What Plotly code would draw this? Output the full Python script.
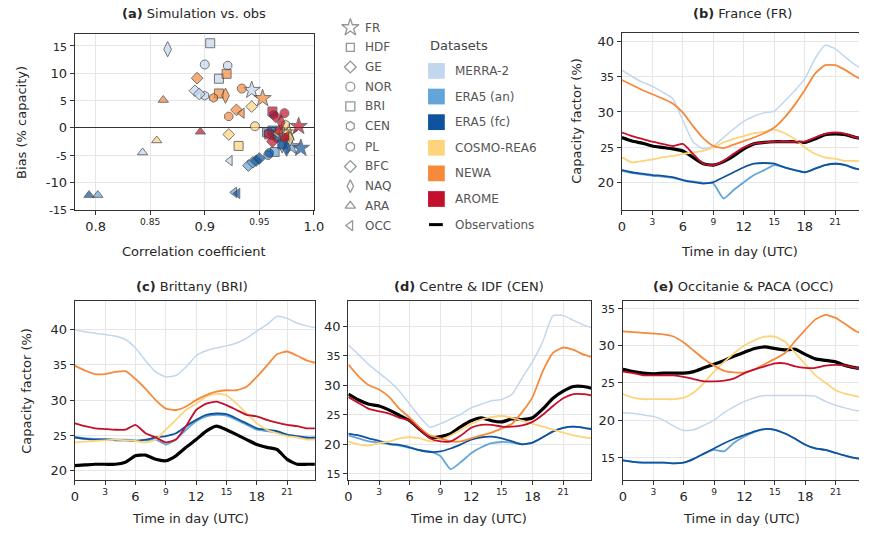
import plotly.graph_objects as go

W, H = 869, 539
FONT = "DejaVu Sans"
INK = "#262626"
GRID = "#e6e6e6"

DATASETS = ["MERRA-2", "ERA5 (an)", "ERA5 (fc)", "COSMO-REA6", "NEWA", "AROME"]
COLORS = ["#c2d7ee", "#63a5d8", "#0f539f", "#fdd47c", "#f68a3a", "#c4102c"]

# ---------------- (a) correlation / bias per region ----------------
REGIONS = ["FR", "HDF", "GE", "NOR", "BRI", "CEN", "PL", "BFC", "NAQ", "ARA", "OCC"]
SYMBOLS = ["star", "square", "diamond", "circle", "square", "hexagon", "octagon",
           "diamond", "diamond-tall", "triangle-up", "triangle-left"]

corr_merra2 = [0.943, 0.913, 0.891, 0.900, 0.905, 0.900, 0.921, 0.895, 0.866, 0.843, 0.923]
bias_merra2 = [6.9, 9.0, 6.8, 11.6, 15.5, 5.9, 11.4, 6.2, 14.4, -4.5, -6.0]
corr_era5an = [0.979, 0.957, 0.940, 0.962, 0.964, 0.958, 0.958, 0.944, 0.971, 0.802, 0.927]
bias_era5an = [-3.4, -0.8, -6.9, -1.3, -4.4, -1.0, -5.0, -6.3, -3.2, -12.3, -11.8]
corr_era5fc = [0.988, 0.962, 0.947, 0.966, 0.971, 0.963, 0.959, 0.950, 0.975, 0.794, 0.930]
bias_era5fc = [-3.7, -0.5, -6.0, -1.8, -3.0, 2.4, -4.6, -5.6, -3.8, -12.3, -12.0]
corr_cosmo = [0.977, 0.975, 0.922, 0.946, 0.931, 0.974, 0.969, 0.943, 0.978, 0.856, 0.966]
bias_cosmo = [-0.9, -1.2, -1.2, 0.3, -3.3, 0.6, -0.3, 3.9, -2.0, -2.3, -1.0]
corr_newa = [0.953, 0.920, 0.893, 0.934, 0.913, 0.908, 0.922, 0.929, 0.919, 0.862, 0.934]
bias_newa = [5.4, 9.9, 9.1, 7.2, 6.3, 5.5, 2.1, 3.3, 5.9, 5.1, 2.7]
corr_arome = [0.986, 0.962, 0.965, 0.973, 0.959, 0.968, 0.973, 0.962, 0.970, 0.896, 0.975]
bias_arome = [0.3, 3.0, 2.0, 2.7, -1.2, -0.5, -1.8, -2.5, 1.0, -0.7, -1.5]

CORR = [corr_merra2, corr_era5an, corr_era5fc, corr_cosmo, corr_newa, corr_arome]
BIAS = [bias_merra2, bias_era5an, bias_era5fc, bias_cosmo, bias_newa, bias_arome]

# ---------------- (b)-(e) mean diurnal capacity factor (%) ----------------
HOURS = list(range(24)) + [23.75]

fr_merra2 = [35.9, 35.0, 34.2, 33.6, 32.8, 31.9, 28.8, 25.8, 24.8, 25.2, 26.4, 27.6, 28.7, 29.4, 29.9, 30.1, 31.5, 33.0, 34.7, 37.5, 39.4, 38.9, 37.7, 36.6, 36.0]
fr_era5an = [21.7, 21.4, 21.2, 21.0, 20.9, 20.7, 20.4, 20.2, 20.0, 19.9, 17.8, 19.0, 20.1, 21.1, 21.8, 22.5, 22.2, 21.8, 21.5, 22.0, 22.5, 22.7, 22.5, 22.0, 21.8]
fr_era5fc = [21.8, 21.5, 21.3, 21.1, 21.0, 20.8, 20.4, 20.1, 19.9, 20.1, 20.8, 21.5, 22.2, 22.7, 22.8, 22.7, 22.2, 21.8, 21.5, 22.0, 22.5, 22.7, 22.5, 22.0, 21.8]
fr_cosmo = [23.6, 22.9, 23.1, 23.3, 23.6, 23.8, 24.1, 24.3, 24.5, 25.0, 25.7, 26.2, 26.6, 27.0, 27.2, 27.5, 27.0, 26.2, 25.0, 24.1, 23.6, 23.4, 23.1, 23.1, 23.0]
fr_newa = [34.5, 33.8, 33.1, 32.5, 31.9, 31.2, 29.9, 28.0, 26.3, 25.2, 24.9, 25.4, 25.9, 26.4, 27.0, 27.8, 29.2, 31.0, 33.1, 35.4, 36.6, 36.6, 35.9, 35.0, 34.5]
fr_arome = [27.1, 26.6, 26.2, 25.8, 25.5, 25.2, 25.5, 24.1, 22.7, 22.5, 23.1, 24.1, 25.0, 25.5, 25.7, 25.8, 25.8, 25.8, 25.8, 26.4, 26.9, 27.1, 26.9, 26.4, 26.2]
fr_obs = [26.4, 25.9, 25.6, 25.2, 25.0, 24.8, 24.5, 23.6, 22.7, 22.5, 23.0, 23.8, 24.8, 25.5, 25.7, 25.8, 25.8, 25.8, 25.7, 26.2, 26.8, 26.9, 26.8, 26.4, 26.2]

bri_merra2 = [40.0, 39.7, 39.5, 39.3, 39.1, 38.6, 37.4, 35.6, 34.0, 33.3, 33.5, 34.7, 36.3, 37.0, 37.4, 37.7, 38.1, 38.8, 39.8, 40.7, 41.9, 41.6, 40.9, 40.5, 40.3]
bri_era5an = [24.8, 24.6, 24.5, 24.5, 24.4, 24.4, 24.3, 24.3, 24.4, 23.7, 24.4, 25.8, 27.0, 27.7, 27.9, 27.8, 27.2, 26.5, 25.8, 25.6, 25.4, 25.0, 24.8, 24.6, 24.6]
bri_era5fc = [24.7, 24.5, 24.4, 24.4, 24.3, 24.3, 24.2, 24.4, 24.7, 24.9, 25.3, 26.3, 27.2, 27.9, 28.1, 28.0, 27.4, 26.7, 26.0, 25.8, 25.6, 25.1, 24.9, 24.7, 24.7]
bri_cosmo = [24.0, 24.1, 24.2, 24.3, 24.4, 24.3, 24.2, 24.0, 24.4, 25.8, 27.2, 28.6, 29.5, 30.5, 30.9, 30.7, 29.5, 28.1, 26.7, 25.8, 25.3, 24.9, 24.7, 24.4, 24.4]
bri_newa = [34.9, 34.2, 33.7, 33.7, 34.0, 34.1, 33.0, 31.6, 30.0, 28.8, 28.6, 29.1, 30.0, 30.7, 31.2, 31.4, 31.4, 31.9, 33.3, 34.9, 36.5, 36.9, 36.3, 35.6, 35.3]
bri_arome = [26.7, 26.3, 26.0, 25.9, 25.8, 25.8, 26.5, 25.3, 24.7, 24.0, 24.4, 26.3, 28.6, 29.5, 29.8, 29.3, 28.6, 27.9, 27.7, 27.2, 26.8, 26.5, 26.3, 26.0, 26.0]
bri_obs = [20.7, 20.8, 20.9, 20.9, 20.9, 21.2, 22.1, 22.2, 21.6, 21.4, 22.1, 23.3, 24.4, 25.6, 26.3, 25.8, 25.1, 24.4, 23.7, 23.3, 23.0, 21.6, 20.9, 20.9, 20.9]

cen_merra2 = [36.8, 35.2, 33.5, 32.1, 30.7, 29.0, 26.8, 24.6, 22.9, 23.5, 24.3, 25.1, 26.2, 26.8, 27.4, 27.6, 28.5, 31.3, 34.0, 37.4, 41.8, 41.8, 41.0, 40.2, 39.8]
cen_era5an = [21.5, 21.0, 20.5, 20.3, 20.0, 19.8, 19.4, 19.0, 18.8, 18.0, 15.8, 17.0, 18.5, 19.5, 20.2, 20.4, 20.3, 20.0, 20.3, 21.2, 22.2, 22.8, 23.0, 22.8, 22.6]
cen_era5fc = [21.8, 21.5, 21.0, 20.6, 20.1, 19.9, 19.5, 19.0, 18.7, 18.8, 19.3, 20.0, 20.8, 21.2, 21.3, 21.0, 20.5, 20.0, 20.3, 21.2, 22.2, 22.8, 23.0, 22.8, 22.6]
cen_cosmo = [20.5, 20.0, 19.8, 20.2, 20.5, 21.0, 21.2, 21.0, 20.5, 20.8, 21.5, 22.5, 23.5, 24.2, 24.6, 24.8, 24.5, 24.0, 23.5, 23.0, 22.5, 22.0, 21.5, 21.2, 21.0]
cen_newa = [33.5, 31.5, 30.0, 29.3, 28.0, 26.0, 24.5, 22.8, 21.5, 21.0, 20.5, 20.5, 21.0, 21.5, 22.0, 22.7, 23.5, 25.5, 28.0, 32.4, 35.5, 36.4, 36.0, 35.2, 34.8]
cen_arome = [28.0, 27.0, 26.0, 25.6, 25.2, 24.5, 24.0, 22.5, 21.0, 20.5, 20.5, 21.5, 22.8, 23.3, 23.3, 23.0, 23.0, 23.2, 23.8, 25.0, 26.5, 27.8, 28.5, 28.5, 28.3]
cen_obs = [28.5, 27.5, 26.8, 26.5, 25.8, 24.9, 24.0, 22.5, 21.2, 21.3, 21.8, 23.0, 24.0, 24.5, 24.0, 23.8, 24.3, 24.2, 24.5, 26.0, 27.8, 29.0, 29.8, 29.8, 29.5]

occ_merra2 = [21.0, 20.9, 20.7, 20.5, 20.0, 19.2, 18.6, 18.7, 19.3, 20.0, 21.0, 21.8, 22.5, 23.0, 23.3, 23.3, 23.3, 23.3, 23.3, 23.2, 22.5, 22.0, 21.6, 21.3, 21.2]
occ_era5an = [14.6, 14.4, 14.3, 14.3, 14.3, 14.2, 14.3, 14.8, 15.5, 16.0, 15.8, 17.0, 17.8, 18.4, 18.8, 18.7, 18.2, 17.5, 16.7, 16.2, 16.0, 15.6, 15.2, 14.9, 14.8]
occ_era5fc = [14.6, 14.4, 14.3, 14.3, 14.3, 14.2, 14.3, 14.8, 15.5, 16.2, 16.9, 17.5, 18.0, 18.5, 18.8, 18.7, 18.2, 17.5, 16.7, 16.2, 16.0, 15.6, 15.2, 14.9, 14.8]
occ_cosmo = [23.5, 23.0, 22.8, 22.8, 22.8, 22.8, 23.0, 23.7, 25.0, 26.5, 27.8, 29.0, 30.0, 30.7, 31.2, 31.2, 30.5, 29.0, 27.5, 26.0, 25.0, 24.0, 23.5, 23.2, 23.0]
occ_newa = [31.9, 31.8, 31.7, 31.6, 31.5, 31.2, 30.4, 29.3, 28.2, 27.3, 26.6, 26.4, 26.4, 26.8, 27.5, 28.2, 29.0, 30.6, 32.1, 33.5, 34.1, 33.7, 32.8, 31.9, 31.5]
occ_arome = [26.5, 26.3, 26.0, 26.0, 26.0, 26.0, 25.8, 25.5, 25.2, 25.2, 25.3, 25.6, 26.3, 26.8, 27.2, 27.6, 27.6, 27.2, 27.0, 27.0, 27.3, 27.4, 27.3, 27.0, 26.9]
occ_obs = [26.8, 26.5, 26.3, 26.2, 26.3, 26.3, 26.3, 26.5, 27.0, 27.5, 28.0, 28.6, 29.1, 29.6, 29.8, 29.6, 29.4, 29.5, 28.8, 28.2, 28.0, 27.8, 27.3, 27.0, 26.9]

PANELS = [
    ("2", [fr_merra2, fr_era5an, fr_era5fc, fr_cosmo, fr_newa, fr_arome], fr_obs),
    ("3", [bri_merra2, bri_era5an, bri_era5fc, bri_cosmo, bri_newa, bri_arome], bri_obs),
    ("4", [cen_merra2, cen_era5an, cen_era5fc, cen_cosmo, cen_newa, cen_arome], cen_obs),
    ("5", [occ_merra2, occ_era5an, occ_era5fc, occ_cosmo, occ_newa, occ_arome], occ_obs),
]


def px_x(p):
    return p / W


def px_y(p):
    return 1 - p / H


def ticktext(vals, big, fmt):
    out = []
    for v in vals:
        s = fmt(v)
        out.append(s if big(v) else "<span style='font-size:11px'>%s</span>" % s)
    return out


def xtext(vals, big, fmt):
    out = []
    for v in vals:
        s = fmt(v)
        out.append(s if big(v) else "<sup>%s</sup>" % s)
    return out


fig = go.Figure()

# panel (a) scatter
for ds, col, cs, bs in zip(DATASETS, COLORS, CORR, BIAS):
    sizes = [13 if s == "star" else (11 if s == "diamond-tall" else 9) for s in SYMBOLS]
    fig.add_trace(go.Scatter(
        x=cs, y=bs, mode="markers", xaxis="x", yaxis="y", showlegend=False,
        marker=dict(symbol=SYMBOLS, size=sizes, color=col,
                    line=dict(color="#3a3a3a", width=1)),
        name=ds, text=REGIONS))

# panels (b)-(e) diurnal cycles
for ax, series, obs in PANELS:
    fig.add_trace(go.Scatter(x=HOURS, y=obs, mode="lines", xaxis="x" + ax, yaxis="y" + ax,
                             line=dict(color="black", width=3.2, shape="spline", smoothing=0.5),
                             showlegend=False, name="Observations"))
    for ds, col, vals in zip(DATASETS, COLORS, series):
        fig.add_trace(go.Scatter(x=HOURS, y=vals, mode="lines", xaxis="x" + ax, yaxis="y" + ax,
                                 line=dict(color=col, width=1.5 if ds == "MERRA-2" else 1.8,
                                           shape="spline", smoothing=0.5),
                                 showlegend=False, name=ds))

# region / dataset keys drawn on a full-page helper axis
KEY_Y = [28, 48, 68, 88, 108, 128, 149, 169, 189, 209, 229]
fig.add_trace(go.Scatter(
    x=[352] * len(REGIONS), y=KEY_Y, mode="markers", xaxis="x6", yaxis="y6", showlegend=False,
    marker=dict(symbol=[s + "-open" for s in SYMBOLS],
                size=[13 if s == "star" else (8 if i == 1 else 9) for i, s in enumerate(SYMBOLS)],
                color="#6a6a6a", line=dict(width=1.3)),
    hoverinfo="skip"))

annotations = []
shapes = []
for r, yk in zip(REGIONS, KEY_Y):
    annotations.append(dict(x=px_x(365), y=px_y(yk), xref="paper", yref="paper", text=r,
                            showarrow=False, xanchor="left", yanchor="middle",
                            font=dict(family=FONT, size=12, color="#555555")))
annotations.append(dict(x=px_x(431), y=px_y(46), xref="paper", yref="paper", text="Datasets",
                        showarrow=False, xanchor="left", yanchor="middle",
                        font=dict(family=FONT, size=13, color="#444444")))
DS_Y = [72, 98, 124, 150, 176, 202]
for ds, col, yk in zip(DATASETS, COLORS, DS_Y):
    shapes.append(dict(type="rect", xref="paper", yref="paper",
                       x0=px_x(431), x1=px_x(448), y0=px_y(yk - 8), y1=px_y(yk + 8),
                       fillcolor=col, line=dict(width=0)))
    annotations.append(dict(x=px_x(456), y=px_y(yk), xref="paper", yref="paper", text=ds,
                            showarrow=False, xanchor="left", yanchor="middle",
                            font=dict(family=FONT, size=12, color="#555555")))
shapes.append(dict(type="line", xref="paper", yref="paper", x0=px_x(432), x1=px_x(446),
                   y0=px_y(228), y1=px_y(228), line=dict(color="black", width=3)))
annotations.append(dict(x=px_x(456), y=px_y(228), xref="paper", yref="paper", text="Observations",
                        showarrow=False, xanchor="left", yanchor="middle",
                        font=dict(family=FONT, size=12, color="#555555")))

# panel titles and axis titles
TITLES = [("(a)", "Simulation vs. obs", 193, 14), ("(b)", "France (FR)", 751, 14),
          ("(c)", "Brittany (BRI)", 191, 291), ("(d)", "Centre & IDF (CEN)", 473, 291),
          ("(e)", "Occitanie & PACA (OCC)", 752, 291)]
for tag, name, xp, yp in TITLES:
    annotations.append(dict(x=px_x(xp), y=px_y(yp), xref="paper", yref="paper",
                            text="<b>%s</b> %s" % (tag, name), showarrow=False,
                            xanchor="center", yanchor="middle",
                            font=dict(family=FONT, size=13, color=INK)))

AXT = [("Correlation coefficient", 193, 255, 0), ("Bias (% capacity)", 17, 124, -90),
       ("Time in day (UTC)", 748, 255, 0), ("Capacity factor (%)", 582, 123, -90),
       ("Capacity factor (%)", 22, 397, -90), ("Time in day (UTC)", 190, 526, 0),
       ("Time in day (UTC)", 472, 526, 0), ("Time in day (UTC)", 750, 526, 0)]
for txt, xp, yp, ang in AXT:
    annotations.append(dict(x=px_x(xp), y=px_y(yp), xref="paper", yref="paper", text=txt,
                            showarrow=False, textangle=ang, xanchor="center", yanchor="middle",
                            font=dict(family=FONT, size=13, color=INK)))

common = dict(showline=True, linecolor="#333333", linewidth=1.3, ticks="outside", ticklen=4,
              tickcolor="#333333", showgrid=True, gridcolor=GRID, gridwidth=1, zeroline=False,
              tickfont=dict(family=FONT, size=13, color=INK))

hour_ticks = list(range(0, 22, 3))
hour_text = xtext(hour_ticks, lambda v: v % 6 == 0, lambda v: str(v))

layout = dict(
    width=W, height=H, autosize=False, margin=dict(l=0, r=0, t=0, b=0),
    plot_bgcolor="rgba(0,0,0,0)", paper_bgcolor="white", showlegend=False,
    annotations=annotations, shapes=shapes,
    xaxis=dict(common, domain=[px_x(72), px_x(315)], range=[0.781, 1.0], anchor="y", mirror=True,
               tickvals=[0.8, 0.85, 0.9, 0.95, 1.0],
               ticktext=xtext([0.8, 0.85, 0.9, 0.95, 1.0], lambda v: round(v * 100) % 10 == 0,
                              lambda v: "%g" % v if v != 1.0 else "1.0")),
    yaxis=dict(common, domain=[px_y(213), px_y(35)], range=[-15, 17.1], anchor="x", mirror=True,
               zeroline=True, zerolinecolor="#333333", zerolinewidth=1.2,
               tickvals=list(range(-15, 16, 5)),
               ticktext=ticktext(list(range(-15, 16, 5)), lambda v: v % 10 == 0, lambda v: str(v))),
    xaxis6=dict(domain=[0, 1], range=[0, W], visible=False, anchor="y6", fixedrange=True),
    yaxis6=dict(domain=[0, 1], range=[H, 0], visible=False, anchor="x6", fixedrange=True),
)

PANEL_BOX = {
    "2": ([628, 869], [213, 33], [0, 23.33], [16.2, 41.2], list(range(20, 41, 5)), False),
    "3": ([72, 316], [487, 306], [0, 23.75], [18.7, 44.0], list(range(20, 41, 5)), True),
    "4": ([350, 597], [487, 306], [0, 23.75], [14.0, 44.2], list(range(15, 41, 5)), True),
    "5": ([629, 869], [487, 306], [0, 23.3], [12.0, 35.9], list(range(15, 36, 5)), False),
}
for ax, (xd, yd, xr, yr, yt, closed) in PANEL_BOX.items():
    layout["xaxis" + ax] = dict(common, domain=[px_x(xd[0]), px_x(xd[1])], range=xr,
                                anchor="y" + ax, mirror=True, tickvals=hour_ticks,
                                ticktext=hour_text)
    layout["yaxis" + ax] = dict(common, domain=[px_y(yd[0]), px_y(yd[1])], range=yr,
                                anchor="x" + ax, mirror=closed, tickvals=yt,
                                ticktext=ticktext(yt, lambda v: v % 10 == 0, lambda v: str(v)))

fig.update_layout(**layout)
fig.write_html("out.html")
